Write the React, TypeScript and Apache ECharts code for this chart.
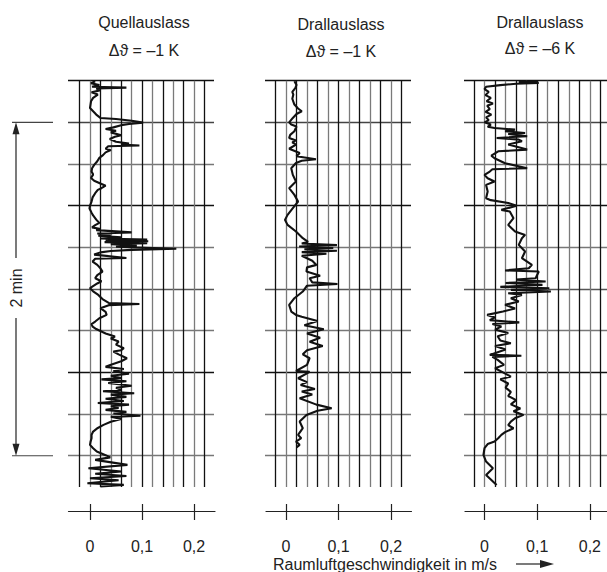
import React, { useEffect, useRef } from "react";
import * as echarts from "echarts";

// ---- data (velocity in m/s, time in s from top line) ----
const panelTitles = ["Quellauslass", "Drallauslass", "Drallauslass"];
const panelSubtitles = ["Δϑ = –1 K", "Δϑ = –1 K", "Δϑ = –6 K"];
const tickValues = [0, 0.1, 0.2];
const tickLabels = ["0", "0,1", "0,2"];
const axisTitle = "Raumluftgeschwindigkeit in m/s";
const spanLabel = "2 min";

const trace1: number[][] = [
  [0.010,0.2],[0.002,0.9],[0.018,1.6],[0.004,2.2],[0.070,2.5],[0.012,2.8],[0.020,3.4],[0.003,4.2],[0.015,5.0],[0.006,6.2],
  [0.002,7.4],[0.001,8.6],[0.000,9.8],[0.006,11.0],[0.012,12.2],[0.020,13.4],[0.050,13.8],[0.080,14.4],[0.102,15.1],[0.075,15.6],
  [0.060,16.0],[0.045,16.8],[0.030,17.4],[0.050,18.0],[0.040,18.6],[0.060,19.6],[0.048,20.2],[0.038,21.0],[0.050,22.0],[0.075,22.6],
  [0.060,23.0],[0.095,23.3],[0.035,23.6],[0.030,24.5],[0.040,25.0],[0.030,25.8],[0.025,26.8],[0.018,27.8],[0.014,29.0],[0.008,30.3],
  [0.004,31.5],[0.003,32.7],[0.006,33.8],[0.002,35.0],[0.008,36.0],[0.020,37.0],[0.030,37.8],[0.022,38.7],[0.015,39.3],[0.010,40.5],
  [0.005,42.0],[0.003,43.5],[0.000,45.0],[-0.001,46.0],[0.003,47.5],[0.006,48.5],[0.012,50.0],[0.018,51.2],[0.010,52.0],[0.004,52.8],
  [0.020,53.4],[0.012,53.8],[0.080,54.6],[0.014,55.0],[0.040,55.4],[0.016,55.8],[0.060,56.4],[0.020,56.8],[0.110,57.2],[0.030,57.5],
  [0.112,57.8],[0.028,58.1],[0.110,58.5],[0.040,58.9],[0.090,59.3],[0.050,59.8],[0.166,60.5],[0.080,60.9],[0.040,61.3],[0.020,61.8],
  [0.008,62.6],[0.070,63.8],[0.010,64.1],[0.005,65.1],[0.014,66.3],[0.020,67.5],[0.024,68.7],[0.014,70.0],[0.010,71.1],[0.022,72.2],
  [0.014,73.0],[0.000,74.7],[0.006,75.8],[0.016,77.1],[0.024,78.6],[0.036,80.0],[0.095,80.4],[0.036,80.8],[0.020,81.9],[0.030,83.2],
  [0.032,84.3],[0.018,85.5],[0.010,86.7],[0.003,87.6],[0.005,88.5],[0.012,89.4],[0.022,90.3],[0.030,91.0],[0.048,92.1],[0.040,92.8],
  [0.055,93.9],[0.050,95.0],[0.065,96.3],[0.060,97.0],[0.045,97.5],[0.055,98.5],[0.071,99.9],[0.060,101.0],[0.039,102.3],[0.030,103.0],
  [0.065,103.8],[0.045,104.5],[0.075,105.5],[0.040,106.2],[0.060,107.0],[0.022,107.5],[0.070,108.2],[0.035,108.8],[0.080,109.8],[0.050,110.5],
  [0.060,111.3],[0.025,111.8],[0.085,112.5],[0.040,113.0],[0.070,113.8],[0.030,114.5],[0.065,115.3],[0.015,116.0],[0.075,116.6],[0.040,117.2],
  [0.055,117.8],[0.030,118.5],[0.070,119.2],[0.045,119.8],[0.097,120.6],[0.040,121.0],[0.060,121.8],[0.040,122.8],[0.026,123.9],[0.015,125.0],
  [0.006,126.3],[0.003,127.5],[0.003,128.7],[0.001,130.0],[0.000,131.1],[0.006,132.3],[0.013,133.5],[0.030,134.8],[0.039,135.6],[0.010,136.5],
  [0.072,138.3],[-0.003,139.5],[0.060,140.7],[0.010,141.5],[0.070,142.3],[0.000,143.1],[0.055,143.8],[-0.005,144.9],[0.065,145.5],[0.020,146.1]
];

const trace2: number[][] = [
  [0.016,0.2],[0.020,1.5],[0.018,2.6],[0.012,4.0],[0.014,5.0],[0.012,6.5],[0.016,8.6],[0.023,10.0],[0.030,11.0],[0.020,12.0],
  [0.013,13.4],[0.006,15.0],[0.010,15.8],[0.020,16.5],[0.016,18.2],[0.008,19.5],[0.006,20.6],[0.019,21.5],[0.012,22.2],[0.019,23.0],
  [0.006,24.5],[0.026,26.0],[0.020,27.2],[0.057,28.3],[0.030,28.8],[0.019,29.6],[0.010,31.5],[0.013,33.9],[0.019,36.3],[0.006,38.7],
  [0.016,41.1],[0.023,43.5],[0.013,45.9],[0.003,48.3],[-0.002,50.1],[0.003,51.9],[0.019,54.3],[0.032,56.7],[0.042,58.0],[0.030,58.6],
  [0.097,59.2],[0.025,59.7],[0.090,60.2],[0.035,60.7],[0.097,61.2],[0.030,61.7],[0.077,62.3],[0.030,63.0],[0.040,63.9],[0.050,64.8],
  [0.058,66.3],[0.040,67.2],[0.039,68.7],[0.065,70.2],[0.045,71.1],[0.050,72.6],[0.098,73.2],[0.040,73.8],[0.032,75.9],[0.016,78.3],
  [0.006,80.7],[0.010,83.1],[0.019,84.3],[0.030,85.0],[0.060,86.5],[0.035,88.0],[0.072,89.5],[0.040,91.0],[0.065,92.5],[0.045,94.0],
  [0.070,95.5],[0.040,97.0],[0.032,98.5],[0.045,99.9],[0.040,102.3],[0.019,104.5],[0.045,104.8],[0.023,107.1],[0.040,108.5],[0.028,109.5],
  [0.055,111.0],[0.030,111.9],[0.050,113.0],[0.026,114.3],[0.058,116.6],[0.087,117.9],[0.060,118.8],[0.039,120.3],[0.026,122.7],[0.032,125.1],
  [0.023,127.5],[0.029,128.7],[0.019,129.9],[0.026,131.1],[0.020,132.0]
];

const trace3: number[][] = [
  [0.100,0.2],[0.065,0.5],[0.103,0.8],[0.060,1.1],[0.030,1.6],[0.003,2.2],[0.000,3.0],[0.008,4.0],[0.002,5.2],[0.012,6.2],
  [0.004,7.4],[0.016,8.2],[0.005,9.0],[0.010,10.2],[0.002,11.2],[0.013,12.2],[0.003,13.2],[0.008,14.2],[0.000,15.0],[0.012,15.8],
  [0.006,16.6],[0.019,17.0],[0.058,17.6],[0.039,18.2],[0.077,18.8],[0.045,19.2],[0.081,20.0],[0.023,20.6],[0.065,21.2],[0.071,21.8],
  [0.045,23.0],[0.081,24.8],[0.026,25.4],[0.013,27.0],[0.019,27.9],[0.039,29.7],[0.081,31.5],[0.015,31.9],[0.010,32.7],[0.000,33.9],
  [0.006,35.1],[0.019,36.3],[0.003,37.5],[0.006,39.9],[0.003,42.3],[0.012,43.0],[0.045,44.0],[0.061,45.0],[0.032,46.5],[0.048,47.1],
  [0.055,49.5],[0.045,51.9],[0.058,54.3],[0.077,55.5],[0.071,56.7],[0.065,59.1],[0.077,61.5],[0.071,63.9],[0.090,66.3],[0.084,67.5],
  [0.039,68.3],[0.103,68.7],[0.097,71.1],[0.060,71.6],[0.116,72.3],[0.040,72.8],[0.110,73.5],[0.030,74.2],[0.123,74.7],[0.050,75.3],
  [0.126,75.9],[0.045,76.5],[0.071,77.1],[0.050,78.3],[0.065,79.5],[0.039,80.7],[0.058,82.0],[0.035,83.1],[0.005,84.3],[0.020,85.2],
  [0.010,86.2],[0.066,87.0],[0.015,87.6],[0.032,88.5],[0.020,89.6],[0.045,90.8],[0.025,92.0],[0.030,93.5],[0.050,94.5],[0.020,95.5],
  [0.040,96.8],[0.010,98.7],[0.070,99.0],[0.015,99.4],[0.025,100.5],[0.037,102.3],[0.020,103.5],[0.035,105.0],[0.050,106.5],[0.030,107.5],
  [0.045,109.0],[0.040,110.5],[0.050,112.0],[0.045,113.5],[0.060,115.0],[0.050,116.5],[0.068,118.0],[0.055,119.0],[0.074,120.3],[0.058,121.5],
  [0.050,122.7],[0.045,124.0],[0.055,125.1],[0.039,126.5],[0.032,127.5],[0.026,128.7],[0.019,129.9],[0.006,130.8],[0.000,132.3],[-0.002,134.7],
  [0.003,137.1],[0.016,139.5],[0.003,141.9],[0.013,143.7],[0.023,145.5]
];

const traces = [trace1, trace2, trace3];

// ---- layout ----
const FONT = "'Liberation Sans', Arial, Helvetica, sans-serif";
const TOP = 80.7;
const PX_PER_S = 41.67 / 15;
const T_MAX = (487 - TOP) / PX_PER_S;
const H_LINES_MAX = 135;
const layout = [
  { x0: 90, s: 520, hl: 68, hr: 214, al: 68.5, ar: 215, tx: 144, ty: 22, sy: 50 },
  { x0: 286, s: 525, hl: 265, hr: 411, al: 266, ar: 411.5, tx: 341, ty: 24, sy: 51 },
  { x0: 484.5, s: 527, hl: 464, hr: 607, al: 465, ar: 607, tx: 540, ty: 22, sy: 48 },
];
const hColors = ["#111", "#444", "#777", "#111", "#777", "#555", "#777", "#111", "#777", "#777"];

export default function App() {
  const ref = useRef<HTMLDivElement>(null);
  useEffect(() => {
    if (!ref.current) return;
    const chart = echarts.init(ref.current, null, { renderer: "svg" });
    const grid: any[] = [];
    const xAxis: any[] = [];
    const yAxis: any[] = [];
    const series: any[] = [];
    const graphic: any[] = [];

    layout.forEach((L, p) => {
      const base = grid.length;
      grid.push({ left: L.x0 - 0.02 * L.s, width: 0.24 * L.s, top: TOP, height: 487 - TOP });
      xAxis.push({
        gridIndex: base, type: "value", min: -0.02, max: 0.22, interval: 0.02,
        axisLine: { show: false }, axisTick: { show: false }, axisLabel: { show: false },
        splitLine: { show: true, lineStyle: { color: ["#111", "#7a7a7a"], width: 1.3 } },
      });
      yAxis.push({ gridIndex: base, type: "value", min: 0, max: T_MAX, inverse: true, show: false, splitLine: { show: false } });
      grid.push({ left: L.hl, width: L.hr - L.hl, top: TOP, height: H_LINES_MAX * PX_PER_S });
      xAxis.push({ gridIndex: base + 1, type: "value", show: false, splitLine: { show: false } });
      yAxis.push({
        gridIndex: base + 1, type: "value", min: 0, max: H_LINES_MAX, interval: 15, inverse: true,
        axisLine: { show: false }, axisTick: { show: false }, axisLabel: { show: false },
        splitLine: { show: true, lineStyle: { color: hColors, width: 1.3 } },
      });
      grid.push({ left: L.al, width: L.ar - L.al, top: 500, height: 11 });
      xAxis.push({
        gridIndex: base + 2, type: "value", min: 0, max: 1, position: "bottom",
        axisLine: { show: true, lineStyle: { color: "#222", width: 1.2 } },
        axisTick: { show: false }, axisLabel: { show: false }, splitLine: { show: false },
      });
      yAxis.push({ gridIndex: base + 2, type: "value", show: false, splitLine: { show: false } });
      grid.push({ left: L.x0, width: 0.2 * L.s, top: 500, height: 20 });
      xAxis.push({
        gridIndex: base + 3, type: "value", min: 0, max: 0.2, interval: 0.1, position: "bottom",
        axisLine: { show: false },
        axisTick: { show: true, inside: true, length: 16, lineStyle: { color: "#222", width: 1.2 } },
        axisLabel: {
          show: true, margin: 18, fontSize: 16, fontFamily: FONT, color: "#222",
          formatter: (v: number) => {
            const i = tickValues.findIndex((t) => Math.abs(t - v) < 1e-9);
            return i >= 0 ? tickLabels[i] : "";
          },
        },
        splitLine: { show: false },
      });
      yAxis.push({ gridIndex: base + 3, type: "value", show: false, splitLine: { show: false } });

      series.push({
        type: "line", xAxisIndex: base, yAxisIndex: base, data: traces[p],
        showSymbol: false, symbol: "none", clip: false,
        lineStyle: { color: "#111", width: 2.1 }, z: 5,
      });

      graphic.push({
        type: "text", x: L.tx, y: L.ty,
        style: { text: panelTitles[p], fontSize: 16, fontFamily: FONT, fill: "#222", align: "center", verticalAlign: "middle" },
      });
      graphic.push({
        type: "text", x: L.tx, y: L.sy,
        style: { text: panelSubtitles[p], fontSize: 16, fontFamily: FONT, fill: "#222", align: "center", verticalAlign: "middle" },
      });
    });

    graphic.push({
      type: "text", x: 385, y: 564,
      style: { text: axisTitle, fontSize: 16, fontFamily: FONT, fill: "#222", align: "center", verticalAlign: "middle" },
    });
    graphic.push({ type: "line", shape: { x1: 516, y1: 564, x2: 542, y2: 564 }, style: { stroke: "#222", lineWidth: 1.2 } });
    graphic.push({ type: "polygon", shape: { points: [[540, 560], [554, 564], [540, 568]] }, style: { fill: "#222" } });

    const yA = TOP + 15 * PX_PER_S;
    const yB = TOP + 135 * PX_PER_S;
    graphic.push({ type: "line", shape: { x1: 12, y1: yA, x2: 53, y2: yA }, style: { stroke: "#444", lineWidth: 1.2 } });
    graphic.push({ type: "line", shape: { x1: 12, y1: yB, x2: 53, y2: yB }, style: { stroke: "#444", lineWidth: 1.2 } });
    graphic.push({ type: "line", shape: { x1: 16, y1: yA + 8, x2: 16, y2: 258 }, style: { stroke: "#222", lineWidth: 1.2 } });
    graphic.push({ type: "line", shape: { x1: 16, y1: 318, x2: 16, y2: yB - 8 }, style: { stroke: "#222", lineWidth: 1.2 } });
    graphic.push({ type: "polygon", shape: { points: [[16, yA], [12.5, yA + 12], [19.5, yA + 12]] }, style: { fill: "#222" } });
    graphic.push({ type: "polygon", shape: { points: [[16, yB], [12.5, yB - 12], [19.5, yB - 12]] }, style: { fill: "#222" } });
    graphic.push({
      type: "text", x: 16, y: 288, rotation: Math.PI / 2,
      style: { text: spanLabel, fontSize: 16, fontFamily: FONT, fill: "#222", align: "center", verticalAlign: "middle" },
    });

    chart.setOption({
      animation: false,
      backgroundColor: "#fff",
      grid, xAxis, yAxis, series, graphic,
    });
    return () => chart.dispose();
  }, []);
  return <div ref={ref} style={{ position: "fixed", left: 0, top: 0, width: 607, height: 572 }} />;
}
